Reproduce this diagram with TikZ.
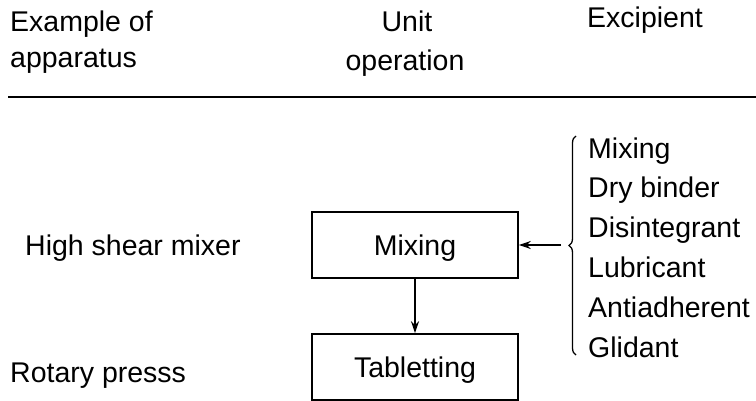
\documentclass[tikz,border=0pt]{standalone}
\usepackage{fontspec}
\setmainfont{Liberation Sans}
\usetikzlibrary{arrows.meta,decorations.pathreplacing}
\begin{document}
\begin{tikzpicture}[x=1pt,y=1pt,
  lbl/.style={inner sep=0pt,text height=20pt,text depth=0pt,
    font=\fontsize{28.5}{33}\selectfont},
  opbox/.style={draw,line width=1.6pt,minimum width=206pt,minimum height=66pt,
    inner sep=0pt,text height=20pt,text depth=0pt,
    font=\fontsize{28.5}{33}\selectfont},
  flow/.style={line width=1.2pt,-{Stealth[length=12pt,width=8pt]}}]
\useasboundingbox (0,0) rectangle (756,400);
% column headings
\node[lbl,anchor=west] (h1a) at (10,378) {Example of};
\node[lbl,anchor=west] (h1b) at (10,342) {apparatus};
\node[lbl] (h2a) at (407,378) {Unit};
\node[lbl] (h2b) at (405,340) {operation};
\node[lbl,anchor=west] (h3) at (587,382) {Excipient};
\draw[line width=2.2pt] (8,303) -- (756,303);
% apparatus
\node[lbl,anchor=west] (ap1) at (25,155) {High shear mixer};
\node[lbl,anchor=west] (ap2) at (10,28) {Rotary presss};
% unit operations
\node[opbox] (mix) at (415,155) {Mixing};
\node[opbox] (tab) at (415,33) {Tabletting};
\draw[flow] (mix.south) -- (tab.north);
% excipients
\foreach \t/\n [count=\i from 0] in {Mixing/e1,Dry binder/e2,Disintegrant/e3,Lubricant/e4,Antiadherent/e5,Glidant/e6}
  \node[lbl,anchor=west] (\n) at (588,252-39.8*\i) {\t};
\draw[line width=1.3pt,decorate,decoration={brace,amplitude=7pt}]
  (576,45) -- (576,264);
\coordinate (btip) at (561,155);
\draw[flow] (btip) -- (mix.east);
\end{tikzpicture}
\end{document}
